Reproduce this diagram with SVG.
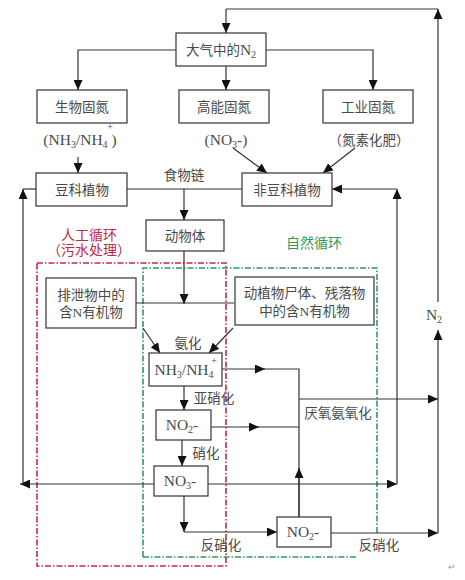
<svg xmlns="http://www.w3.org/2000/svg" width="465" height="580" viewBox="0 0 465 580">
<defs>
<marker id="ah" markerUnits="userSpaceOnUse" markerWidth="11" markerHeight="9" refX="10" refY="4.5" orient="auto">
<path d="M0,0 L10,4.5 L0,9 Z" fill="#111"/>
</marker>
<style>
.box{fill:#fff;stroke:#333;stroke-width:1.2}
.ln{fill:none;stroke:#333;stroke-width:1.2}
.ar{fill:none;stroke:#333;stroke-width:1.2;marker-end:url(#ah)}
text{font-family:"Liberation Serif","Noto Sans CJK SC",serif;font-size:13.5px;fill:#4a4a4a;text-anchor:middle}
.lat{font-size:15.5px}
.sub{font-size:10px}
.red{fill:#c8283f;font-size:14px}
.grn{fill:#2f9a5c;font-size:14px}
.rdash{fill:none;stroke:#c8283f;stroke-width:1.6;stroke-dasharray:6 2 1.5 2}
.gdash{fill:none;stroke:#2f9a5c;stroke-width:1.6;stroke-dasharray:6 2 1.5 2}
</style>
</defs>
<rect width="465" height="580" fill="#fff"/>

<g id="regions">
<rect class="rdash" x="37" y="263" width="189" height="303"/>
<path class="gdash" d="M143,557 V268 H377 V533 M143,557 H357"/>
</g>

<g id="connectors">
<path class="ln" d="M438,9 H226"/>
<path class="ar" d="M226,9 V33"/>
<path class="ar" d="M438,302 V9"/>
<path class="ar" d="M176,50 H78 V90"/>
<path class="ar" d="M266,50 H373 V90"/>
<path class="ar" d="M226,66 V90"/>
<path class="ar" d="M78,157 V173"/>
<path class="ar" d="M233,148 L267,173"/>
<path class="ar" d="M355,148 L323,173"/>
<path class="ln" d="M127,189 H242"/>
<path class="ar" d="M184,189 V220"/>
<path class="ar" d="M184,251 V304"/>
<path class="ln" d="M136,303 H234"/>
<path class="ar" d="M143,328 L160,353"/>
<path class="ar" d="M233,328 L209,353"/>
<path class="ar" d="M184,386 V410"/>
<path class="ar" d="M222,369 H265"/>
<path class="ln" d="M263,369 H299 V517"/>
<path class="ar" d="M211,427 H259"/>
<path class="ln" d="M257,427 H299"/>
<path class="ar" d="M299,399 H438"/>
<path class="ar" d="M299,517 V468"/>
<path class="ar" d="M182,440 V466"/>
<path class="ar" d="M154,484 H20"/>
<path class="ar" d="M23,484 V189"/>
<path class="ln" d="M23,189 H36"/>
<path class="ar" d="M208,484 H397"/>
<path class="ar" d="M397,484 V189"/>
<path class="ar" d="M397,189 H332"/>
<path class="ar" d="M184,496 V532"/>
<path class="ar" d="M184,532 H277"/>
<path class="ar" d="M331,533 H438"/>
<path class="ar" d="M438,533 V330"/>
</g>

<g id="n-air">
<rect class="box" x="176" y="33" width="90" height="33"/>
<text x="221" y="55">大气中的<tspan class="lat">N</tspan><tspan class="sub" dy="3">2</tspan></text>
</g>
<g id="n-bio">
<rect class="box" x="37" y="90" width="90" height="33"/>
<text x="82" y="111.5">生物固氮</text>
</g>
<g id="n-high">
<rect class="box" x="179" y="90" width="90" height="33"/>
<text x="224" y="111.5">高能固氮</text>
</g>
<g id="n-ind">
<rect class="box" x="323" y="90" width="90" height="33"/>
<text x="368" y="111.5">工业固氮</text>
</g>
<g id="l-nh">
<text x="80" y="145" class="lat">(NH<tspan class="sub" dy="3">3</tspan><tspan dy="-3">/NH</tspan><tspan class="sub" dy="3">4</tspan><tspan dy="-3"> )</tspan></text>
<text x="110" y="130" class="sub">+</text>
</g>
<g id="l-no3">
<text x="226" y="145" class="lat">(NO<tspan class="sub" dy="3">3</tspan><tspan dy="-3">-)</tspan></text>
</g>
<g id="l-fert">
<text x="369" y="145">（氮素化肥）</text>
</g>
<g id="n-legume">
<rect class="box" x="36" y="173" width="91" height="33"/>
<text x="82" y="194.5">豆科植物</text>
</g>
<g id="n-nonlegume">
<rect class="box" x="242" y="173" width="90" height="33"/>
<text x="287" y="194.5">非豆科植物</text>
</g>
<g id="l-food"><text x="184" y="180">食物链</text></g>
<g id="n-animal">
<rect class="box" x="146" y="220" width="78" height="31"/>
<text x="185" y="240.5">动物体</text>
</g>
<g id="l-art">
<text class="red" x="89" y="240">人工循环</text>
<text class="red" x="89" y="255">（污水处理）</text>
</g>
<g id="l-nat"><text class="grn" x="314" y="248">自然循环</text></g>
<g id="n-excreta">
<rect class="box" x="46" y="278" width="90" height="50"/>
<text x="91" y="300">排泄物中的</text>
<text x="91" y="317">含N有机物</text>
</g>
<g id="n-residue">
<rect class="box" x="235" y="277" width="139" height="48"/>
<text x="304.5" y="298">动植物尸体、残落物</text>
<text x="304.5" y="316">中的含N有机物</text>
</g>
<g id="l-amm"><text x="188" y="348">氨化</text></g>
<g id="n-nh">
<rect class="box" x="149" y="353" width="73" height="33"/>
<text x="184" y="375" class="lat">NH<tspan class="sub" dy="3">3</tspan><tspan dy="-3">/NH</tspan><tspan class="sub" dy="3">4</tspan></text>
<text x="214" y="364" class="sub">+</text>
</g>
<g id="l-nitrit"><text x="214" y="403">亚硝化</text></g>
<g id="n-no2a">
<rect class="box" x="156" y="410" width="55" height="30"/>
<text x="182" y="430" class="lat">NO<tspan class="sub" dy="3">2</tspan><tspan dy="-3">-</tspan></text>
</g>
<g id="l-nitrat"><text x="206" y="458">硝化</text></g>
<g id="n-no3">
<rect class="box" x="154" y="466" width="54" height="30"/>
<text x="180" y="486" class="lat">NO<tspan class="sub" dy="3">3</tspan><tspan dy="-3">-</tspan></text>
</g>
<g id="l-anammox"><text x="338" y="418">厌氧氨氧化</text></g>
<g id="n-no2b">
<rect class="box" x="277" y="517" width="54" height="30"/>
<text x="303" y="537" class="lat">NO<tspan class="sub" dy="3">2</tspan><tspan dy="-3">-</tspan></text>
</g>
<g id="l-denit1"><text x="221" y="550">反硝化</text></g>
<g id="l-denit2"><text x="379" y="550">反硝化</text></g>
<g id="l-n2"><text x="434" y="320" class="lat">N<tspan class="sub" dy="3">2</tspan></text></g>
<g id="l-mark"><text x="452" y="570" style="font-size:9px;fill:#999">↵</text></g>
</svg>
